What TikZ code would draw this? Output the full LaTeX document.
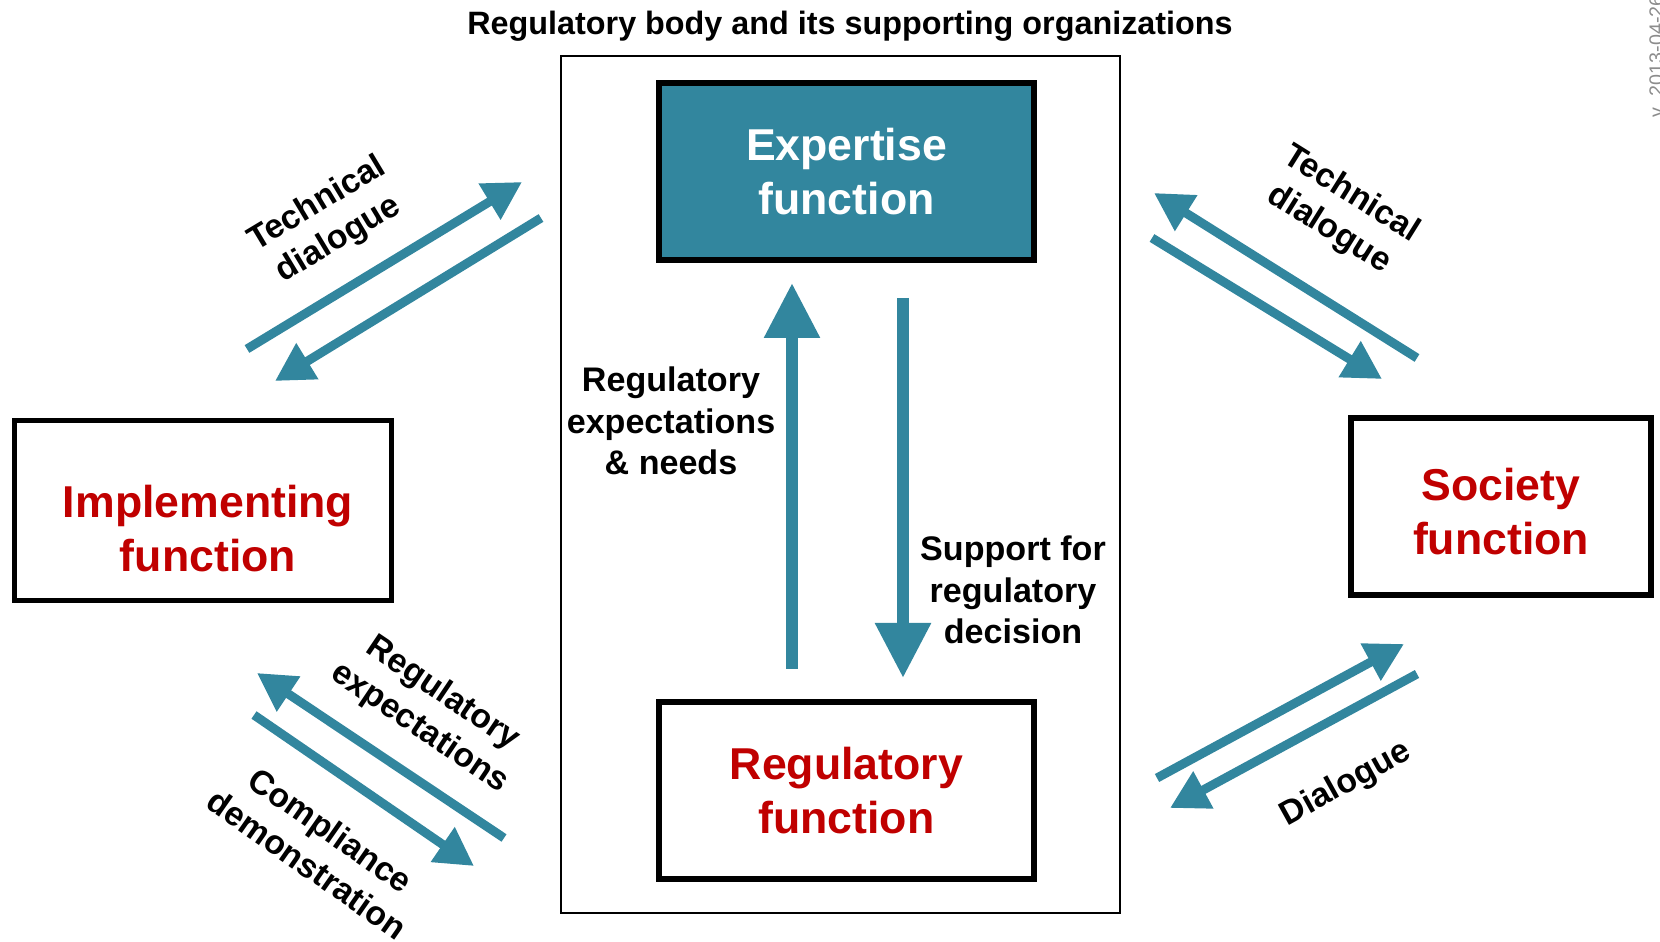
\documentclass[tikz,border=0pt]{standalone}
\usepackage{fontspec}
\setmainfont{Liberation Sans}
\usetikzlibrary{arrows.meta,positioning}
\definecolor{tealblue}{RGB}{50,134,158}
\definecolor{funcred}{RGB}{192,0,0}
\tikzstyle{func}=[draw,line width=1.7pt,minimum width=3.75cm,minimum
  height=1.77cm,align=center,text=funcred,
  font=\fontsize{12.7}{15.2}\selectfont\bfseries]
\tikzstyle{flow}=[tealblue,line width=0.09cm,
  -{Triangle[width=0.4cm,length=0.38cm]}]
\tikzstyle{bigflow}=[tealblue,line width=0.12cm,
  -{Triangle[width=0.53cm,length=0.55cm]}]
\tikzstyle{lbl}=[align=center,inner sep=0pt,
  font=\fontsize{9.6}{11.8}\selectfont\bfseries]

\begin{document}
\begin{tikzpicture}[on grid]
  \useasboundingbox (0,0) rectangle (16.6,9.41);

  \node[draw,line width=0.8pt,minimum width=5.59cm,minimum height=8.57cm]
    (body) at (8.405,4.565) {};
  \node[font=\fontsize{9.2}{11}\selectfont\bfseries] (title) at (8.5,9.15)
    {Regulatory body and its supporting organizations};

  \node[func, fill=tealblue, text=white] (exp) at (8.465,7.695)
    {Expertise\\function};
  \node[func, below=6.19cm of exp] (reg) {Regulatory\\function};
  \node[func, minimum width=3.77cm, minimum height=1.8cm] (impl)
    at (2.03,4.305) {};
  \node[func, draw=none, inner sep=0pt] (impl-text)
    at ([xshift=0.05cm,yshift=-0.18cm]impl.center) {Implementing\\function};
  \node[func, minimum width=3.0cm] (soc) at (15.01,4.345) {};
  \node[func, draw=none, inner sep=0pt] (soc-text)
    at ([yshift=-0.05cm]soc.center) {Society\\function};

  \coordinate (up-1) at (7.92,2.72);
  \coordinate (up-2) at (7.92,6.58);
  \coordinate (down-1) at (9.03,6.43);
  \coordinate (down-2) at (9.03,2.63);
  \draw[bigflow] (up-1) -- (up-2);
  \draw[bigflow] (down-1) -- (down-2);

  \node[lbl, font=\fontsize{9.7}{11.8}\selectfont\bfseries] (needs)
    at (6.71,5.2) {Regulatory\\expectations\\\& needs};
  \node[lbl, font=\fontsize{9.7}{11.8}\selectfont\bfseries] (support)
    at (10.13,3.51) {Support for\\regulatory\\decision};

  \coordinate (tl-1) at (2.47,5.92);
  \coordinate (tl-2) at (5.22,7.59);
  \coordinate (tl-3) at (5.41,7.23);
  \coordinate (tl-4) at (2.75,5.6);
  \draw[flow] (tl-1) -- (tl-2);
  \draw[flow] (tl-3) -- (tl-4);
  \node[lbl, rotate=31] (tl-lbl) at (3.28,7.19) {Technical\\dialogue};

  \coordinate (tr-1) at (14.17,5.83);
  \coordinate (tr-2) at (11.54,7.48);
  \coordinate (tr-3) at (11.52,7.03);
  \coordinate (tr-4) at (13.82,5.62);
  \draw[flow] (tr-1) -- (tr-2);
  \draw[flow] (tr-3) -- (tr-4);
  \node[lbl, rotate=-32] (tr-lbl) at (13.4,7.29) {Technical\\dialogue};

  \coordinate (bl-1) at (5.04,1.03);
  \coordinate (bl-2) at (2.57,2.68);
  \coordinate (bl-3) at (2.54,2.26);
  \coordinate (bl-4) at (4.74,0.75);
  \draw[flow] (bl-1) -- (bl-2);
  \draw[flow] (bl-3) -- (bl-4);
  \node[lbl, rotate=-34] (bl-lbl) at (4.31,2.3) {Regulatory\\expectations};
  \node[lbl, rotate=-35] (bl-lbl2) at (3.19,0.94) {Compliance\\demonstration};

  \coordinate (br-1) at (11.57,1.63);
  \coordinate (br-2) at (14.04,2.97);
  \coordinate (br-3) at (14.17,2.67);
  \coordinate (br-4) at (11.7,1.33);
  \draw[flow] (br-1) -- (br-2);
  \draw[flow] (br-3) -- (br-4);
  \node[lbl, rotate=29] (br-lbl) at (13.46,1.57) {Dialogue};

  \node[rotate=90, anchor=base west, inner sep=0pt, text=black!45,
    font=\fontsize{5.6}{6}\selectfont] (version) at (16.63,8.23)
    {v. 2013-04-26};
\end{tikzpicture}
\end{document}
